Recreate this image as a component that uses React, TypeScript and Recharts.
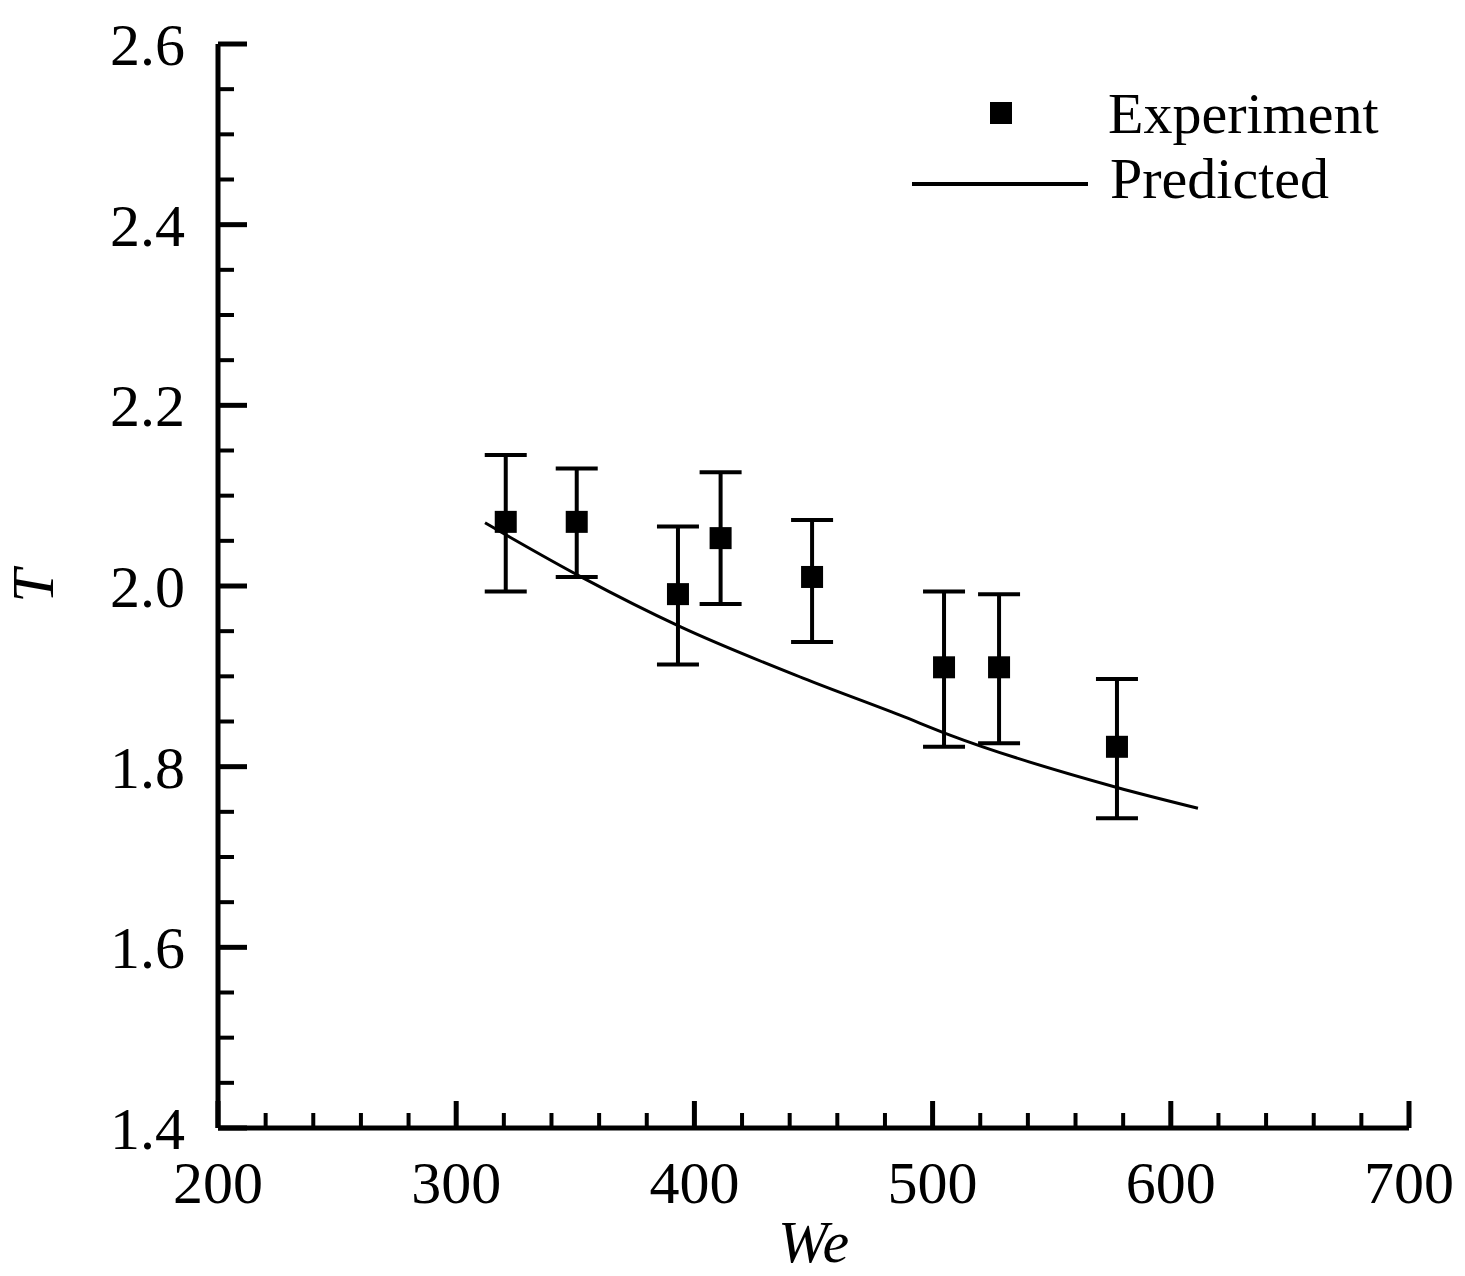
import React from 'react';
import { ScatterChart, Scatter, XAxis, YAxis, ErrorBar, Legend } from 'recharts';

// experiment points (We, T) and the ends of each error bar
const expWe = [320.8, 350.6, 393.1, 411.0, 449.4, 504.8, 527.9, 577.4];
const expT = [2.071, 2.071, 1.991, 2.053, 2.010, 1.910, 1.910, 1.822];
const expUpper = [2.145, 2.130, 2.066, 2.126, 2.073, 1.994, 1.991, 1.897];
const expLower = [1.994, 2.010, 1.913, 1.980, 1.938, 1.822, 1.826, 1.743];

// predicted curve
const predWe = [312.1, 322.6, 353.2, 394.0, 445.6, 486.3, 507.3, 577.4, 611.4];
const predT = [2.070, 2.054, 2.009, 1.955, 1.898, 1.857, 1.835, 1.777, 1.754];

// ticks (major + minor)
const xTicks = [
  200, 220, 240, 260, 280, 300, 320, 340, 360, 380, 400, 420, 440, 460, 480,
  500, 520, 540, 560, 580, 600, 620, 640, 660, 680, 700,
];
const yTicks = [
  1.4, 1.45, 1.5, 1.55, 1.6, 1.65, 1.7, 1.75, 1.8, 1.85, 1.9, 1.95, 2.0,
  2.05, 2.1, 2.15, 2.2, 2.25, 2.3, 2.35, 2.4, 2.45, 2.5, 2.55, 2.6,
];

const FONT = '"Liberation Serif", "Times New Roman", serif';

const expData = expWe.map((we, i) => ({
  we,
  t: expT[i],
  err: [expT[i] - expLower[i], expUpper[i] - expT[i]],
}));
const predData = predWe.map((we, i) => ({ we, t: predT[i] }));

const isMajorX = (v: number) => Math.abs(v / 100 - Math.round(v / 100)) < 1e-6;
const isMajorY = (v: number) => Math.abs(v * 5 - Math.round(v * 5)) < 1e-6;

const XTick = (props: any) => {
  const { x, y, payload } = props;
  const major = isMajorX(payload.value);
  return (
    <g>
      <line x1={x} x2={x} y1={y} y2={y - (major ? 27 : 15)} stroke="#000" strokeWidth={major ? 5 : 4} />
      {major && (
        <text x={x} y={y + 75} textAnchor="middle" fontSize={60} fontFamily={FONT} fill="#000">
          {payload.value}
        </text>
      )}
    </g>
  );
};

const YTick = (props: any) => {
  const { x, y, payload } = props;
  const major = isMajorY(payload.value);
  return (
    <g>
      <line x1={x} x2={x + (major ? 29 : 16)} y1={y} y2={y} stroke="#000" strokeWidth={major ? 5 : 4} />
      {major && (
        <text x={x - 33} y={y + 21} textAnchor="end" fontSize={60} fontFamily={FONT} fill="#000">
          {payload.value.toFixed(1)}
        </text>
      )}
    </g>
  );
};

const Square = (props: any) => {
  const { cx, cy } = props;
  return <rect x={cx - 11} y={cy - 11} width={22} height={22} fill="#000" />;
};

const renderLegend = () => (
  <svg width={520} height={130}>
    <rect x={90} y={22} width={22} height={22} fill="#000" />
    <text x={208} y={53} fontSize={58} fontFamily={FONT} fill="#000">Experiment</text>
    <line x1={12} x2={188} y1={104} y2={104} stroke="#000" strokeWidth={4} />
    <text x={210} y={118} fontSize={58} fontFamily={FONT} fill="#000">Predicted</text>
  </svg>
);

const App = () => {
  return (
    <div style={{ position: 'absolute', left: 0, top: 0, background: '#fff' }}>
      <ScatterChart width={1465} height={1276} margin={{ top: 44, right: 56, bottom: 48, left: 98 }}>
        <XAxis
          type="number"
          dataKey="we"
          domain={[200, 700]}
          ticks={xTicks}
          interval={0}
          tick={<XTick />}
          tickLine={false}
          tickSize={0}
          tickMargin={0}
          height={100}
          axisLine={{ stroke: '#000', strokeWidth: 5 }}
          allowDataOverflow
          label={{
            position: 'bottom',
            content: (p: any) => (
              <text
                x={p.viewBox.x + p.viewBox.width / 2}
                y={p.viewBox.y + 134}
                textAnchor="middle"
                fontSize={60}
                fontStyle="italic"
                fontFamily={FONT}
                fill="#000"
              >
                We
              </text>
            ),
          }}
        />
        <YAxis
          type="number"
          dataKey="t"
          domain={[1.4, 2.6]}
          ticks={yTicks}
          interval={0}
          tick={<YTick />}
          tickLine={false}
          tickSize={0}
          tickMargin={0}
          width={120}
          axisLine={{ stroke: '#000', strokeWidth: 5 }}
          allowDataOverflow
          label={{
            position: 'left',
            content: (p: any) => {
              const lx = p.viewBox.x - 45;
              const ly = p.viewBox.y + p.viewBox.height / 2;
              return (
                <text
                  x={lx}
                  y={ly}
                  transform={`rotate(-90 ${lx} ${ly})`}
                  textAnchor="middle"
                  fontSize={60}
                  fontStyle="italic"
                  fontFamily={FONT}
                  fill="#000"
                >
                  T
                </text>
              );
            },
          }}
        />
        <Legend
          layout="horizontal"
          verticalAlign="middle"
          align="center"
          wrapperStyle={{ left: 900, top: 80, width: 520 }}
          content={renderLegend}
        />
        <Scatter
          name="Predicted"
          data={predData}
          line={{ stroke: '#000', strokeWidth: 3 }}
          lineJointType="monotoneX"
          shape={() => <g />}
          isAnimationActive={false}
        />
        <Scatter name="Experiment" data={expData} shape={<Square />} isAnimationActive={false}>
          <ErrorBar dataKey="err" direction="y" width={21} stroke="#000" strokeWidth={4} isAnimationActive={false} />
        </Scatter>
      </ScatterChart>
    </div>
  );
};

export default App;
